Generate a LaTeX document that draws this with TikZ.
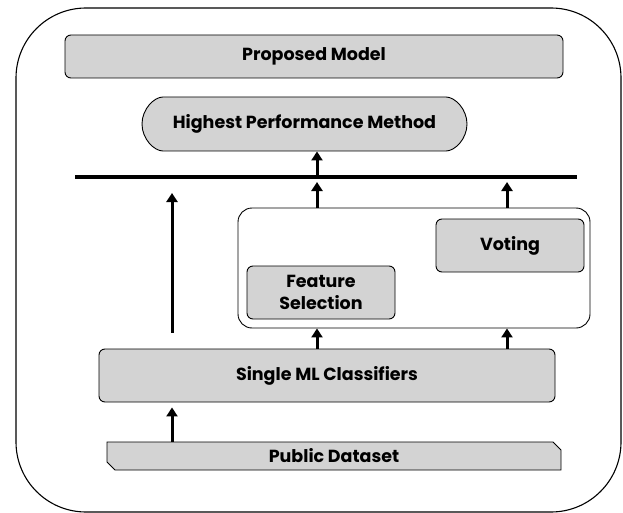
\documentclass[tikz,border=0pt]{standalone}
\usepackage{fontspec}
\newfontfamily\gothic{Poppins}
\usetikzlibrary{arrows.meta,shapes.misc}
\definecolor{boxgray}{RGB}{211,211,211}

\begin{document}
\begin{tikzpicture}[x=1pt, y=-1pt,
  gbox/.style={draw, rounded corners=6pt, fill=boxgray, line width=0.9pt, inner sep=0pt,
    font=\gothic\bfseries\fontsize{17.5}{22}\selectfont, align=center},
  arr/.style={line width=3pt, -{Triangle[width=11pt, length=9pt]}}]

\useasboundingbox (0,0) rectangle (623,513);
\draw[line width=1.1pt, rounded corners=70pt] (16,8) rectangle (621,512);

\node[gbox, minimum width=498pt, minimum height=43pt] (prop) at (314,56.5) {Proposed Model};
\node[gbox, rounded rectangle, minimum width=325pt, minimum height=54pt] (hpm) at (304.5,124) {Highest Performance Method};

\node[draw, rounded corners=14pt, line width=0.9pt, minimum width=352pt, minimum height=120pt] (inner) at (414,268) {};
\node[gbox, minimum width=148pt, minimum height=53pt] (vote) at (510,245.5) {Voting};
\node[gbox, minimum width=148pt, minimum height=53pt] (feat) at (321,292.5) {Feature\\Selection};

\node[gbox, minimum width=456pt, minimum height=53pt] (sml) at (327,375.5) {Single ML Classifiers};
\node[gbox, rounded corners=0pt, chamfered rectangle, chamfered rectangle corners={north east, south west},
  chamfered rectangle xsep=4pt, chamfered rectangle ysep=4pt,
  minimum width=454pt, minimum height=28pt] (pub) at (334,456) {Public Dataset};

\coordinate (barL) at (75,177);
\coordinate (barR) at (577,177);
\coordinate (c0) at (172,0);
\coordinate (c1) at (317,0);
\coordinate (c2) at (507,0);
\draw[line width=4pt] (barL) -- (barR);

\draw[arr, shorten >=5pt] (pub.north -| c0) -- (sml.south -| c0);
\draw[arr, shorten <=16pt, shorten >=16pt] (sml.north -| c0) -- (barL -| c0);
\draw[arr] (sml.north -| c1) -- (inner.south -| c1);
\draw[arr] (sml.north -| c2) -- (inner.south -| c2);
\draw[arr, shorten >=5pt] (inner.north -| c1) -- (barL -| c1);
\draw[arr, shorten >=5pt] (inner.north -| c2) -- (barL -| c2);
\draw[arr, shorten <=2pt] (barL -| c1) -- (hpm.south -| c1);

\end{tikzpicture}
\end{document}
